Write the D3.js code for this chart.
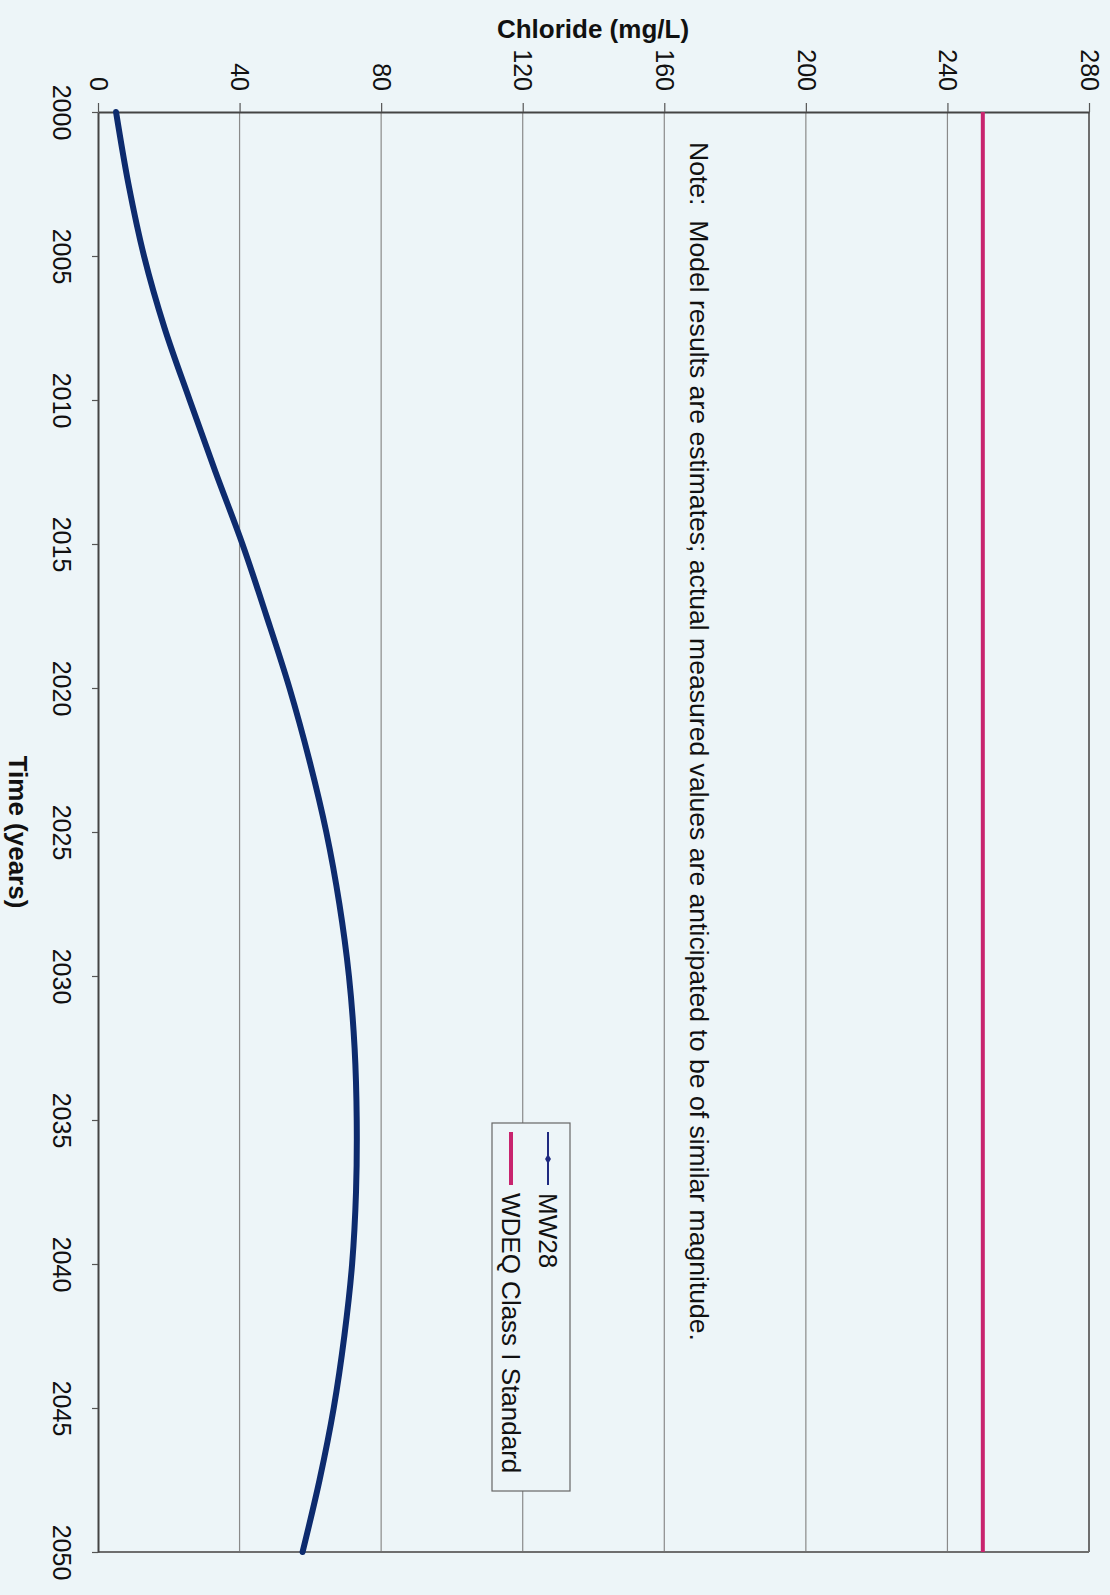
<!DOCTYPE html>
<html>
<head>
<meta charset="utf-8">
<script src="https://cdn.jsdelivr.net/npm/d3@7"></script>
<style>
  body { margin: 0; background: #edf5f8; }
  svg { display: block; font-family: "Liberation Sans", Arial, sans-serif; }
  .grid line { stroke: #8a8a8a; stroke-width: 1.2; }
</style>
</head>
<body>
<div id="chart"></div>
<script>
// model years and MW28 chloride estimates (mg/L)
var years = [2000, 2002.5, 2005, 2007.5, 2010, 2012.5, 2015, 2017.5, 2020, 2022.5, 2025,
             2027.5, 2030, 2032.5, 2035, 2037.5, 2040, 2042.5, 2045, 2047.5, 2050];
var mw28 = [5.1, 8.6, 13.0, 18.8, 25.9, 33.2, 40.8, 47.6, 54.1, 59.7, 64.5,
            68.2, 70.9, 72.5, 73.1, 72.9, 71.8, 69.6, 66.6, 62.6, 57.8];
var standard = 250;
var chlorideTicks = [0, 40, 80, 120, 160, 200, 240, 280];
var yearTicks = [2000, 2005, 2010, 2015, 2020, 2025, 2030, 2035, 2040, 2045, 2050];
var seriesNames = ["MW28", "WDEQ Class I Standard"];
var noteText = "Note:  Model results are estimates; actual measured values are anticipated to be of similar magnitude.";

var W = 1110, H = 1595;
var plot = {left: 98, right: 1089, top: 112, bottom: 1552};

var svg = d3.select("#chart").append("svg")
    .attr("width", W)
    .attr("height", H);

// page is printed sideways: chloride runs across, time runs down
var x = d3.scaleLinear().domain([0, 280]).range([plot.left, plot.right]);
var y = d3.scaleLinear().domain([2000, 2050]).range([plot.top, plot.bottom]);

// vertical gridlines
svg.append("g").attr("class", "grid")
  .selectAll("line")
  .data(chlorideTicks.slice(1, -1))
  .enter().append("line")
    .attr("x1", function(d) { return x(d); })
    .attr("x2", function(d) { return x(d); })
    .attr("y1", plot.top)
    .attr("y2", plot.bottom);

// outer frame (right and bottom)
svg.append("line").attr("x1", plot.right).attr("x2", plot.right).attr("y1", plot.top).attr("y2", plot.bottom)
  .attr("stroke", "#6e6e6e").attr("stroke-width", 2);
svg.append("line").attr("x1", plot.left).attr("x2", plot.right).attr("y1", plot.bottom).attr("y2", plot.bottom)
  .attr("stroke", "#6e6e6e").attr("stroke-width", 2);

// chloride axis on top
var xAxis = svg.append("g")
    .attr("transform", "translate(0," + plot.top + ")")
    .call(d3.axisTop(x).tickValues(chlorideTicks).tickSize(9).tickSizeOuter(0));
xAxis.select(".domain").attr("stroke", "#444").attr("stroke-width", 2);
xAxis.selectAll(".tick line").attr("stroke", "#555").attr("stroke-width", 1.2);
xAxis.selectAll(".tick text")
    .attr("x", 0).attr("y", 0)
    .attr("dy", "0.35em")
    .attr("transform", "translate(0,-21) rotate(90)")
    .attr("text-anchor", "end")
    .attr("fill", "#111")
    .style("font-size", "25px");

// time axis on the left
var yAxis = svg.append("g")
    .attr("transform", "translate(" + plot.left + ",0)")
    .call(d3.axisLeft(y).tickValues(yearTicks).tickSize(6).tickSizeOuter(0).tickFormat(d3.format("d")));
yAxis.select(".domain").attr("stroke", "#444").attr("stroke-width", 2);
yAxis.selectAll(".tick line").attr("stroke", "#555").attr("stroke-width", 1.2);
yAxis.selectAll(".tick text")
    .attr("x", 0).attr("y", 0)
    .attr("dy", "0.35em")
    .attr("transform", "translate(-36,0) rotate(90)")
    .attr("text-anchor", "middle")
    .attr("fill", "#111")
    .style("font-size", "25px");

// axis titles
svg.append("text")
    .attr("x", 593).attr("y", 38)
    .attr("text-anchor", "middle")
    .style("font-size", "26px").style("font-weight", "bold")
    .attr("fill", "#111")
    .text("Chloride (mg/L)");

svg.append("text")
    .attr("transform", "translate(18,832) rotate(90)")
    .attr("dy", "0.35em")
    .attr("text-anchor", "middle")
    .style("font-size", "26px").style("font-weight", "bold")
    .attr("fill", "#111")
    .text("Time (years)");

// note
svg.append("text")
    .attr("transform", "translate(699,142) rotate(90)")
    .attr("dy", "0.35em")
    .style("font-size", "26px")
    .style("white-space", "pre")
    .attr("textLength", 1199)
    .attr("lengthAdjust", "spacingAndGlyphs")
    .attr("fill", "#111")
    .text(noteText);

// standard line
svg.append("line")
    .attr("x1", x(standard)).attr("x2", x(standard))
    .attr("y1", y(2000)).attr("y2", y(2050))
    .attr("stroke", "#c8246e").attr("stroke-width", 4);

// MW28 curve
var pts = years.map(function(d, i) { return {year: d, value: mw28[i]}; });
var line = d3.line()
    .x(function(d) { return x(d.value); })
    .y(function(d) { return y(d.year); })
    .curve(d3.curveCatmullRom.alpha(0.5));
svg.append("path")
    .datum(pts)
    .attr("fill", "none")
    .attr("stroke", "#0d2b6e")
    .attr("stroke-width", 6)
    .attr("stroke-linecap", "round")
    .attr("d", line);

// legend
var lg = svg.append("g");
lg.append("rect")
    .attr("x", 492).attr("y", 1123)
    .attr("width", 78).attr("height", 368)
    .attr("fill", "#edf5f8")
    .attr("stroke", "#666").attr("stroke-width", 1.2);

var entries = [
  {name: seriesNames[0], cx: 548, color: "#1f2a80", width: 2, marker: true},
  {name: seriesNames[1], cx: 511, color: "#c8246e", width: 4, marker: false}
];
entries.forEach(function(e) {
  lg.append("line")
    .attr("x1", e.cx).attr("x2", e.cx)
    .attr("y1", 1132).attr("y2", 1185)
    .attr("stroke", e.color).attr("stroke-width", e.width);
  if (e.marker) {
    lg.append("path")
      .attr("transform", "translate(" + e.cx + ",1159)")
      .attr("d", d3.symbol().type(d3.symbolDiamond).size(30))
      .attr("fill", e.color);
  }
  lg.append("text")
    .attr("transform", "translate(" + e.cx + ",1193) rotate(90)")
    .attr("dy", "0.35em")
    .style("font-size", "26px")
    .attr("fill", "#111")
    .text(e.name);
});
</script>
</body>
</html>
